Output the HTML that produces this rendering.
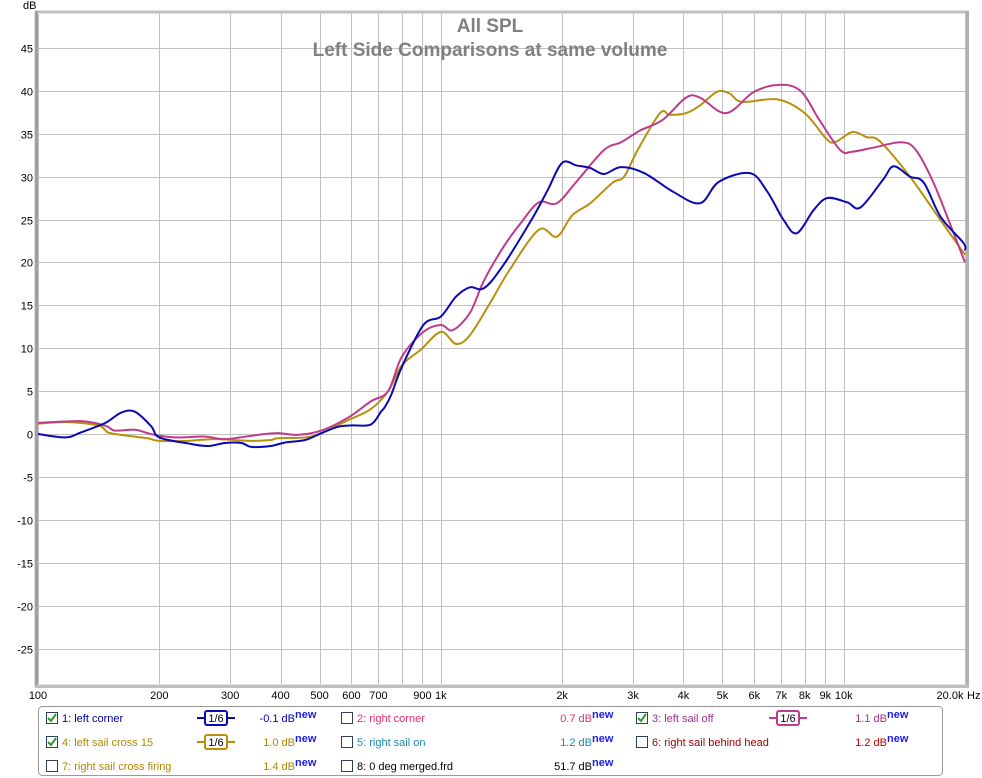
<!DOCTYPE html>
<html><head><meta charset="utf-8"><style>
body{margin:0;background:#fff;font-family:"Liberation Sans",sans-serif;}
svg{display:block}
</style></head><body>
<svg id="chart" width="982" height="778" xmlns="http://www.w3.org/2000/svg"></svg>
<script>
const yTicks=[45,40,35,30,25,20,15,10,5,0,-5,-10,-15,-20,-25];
const xGrid=[100,200,300,400,500,600,700,800,900,1000,2000,3000,4000,5000,6000,7000,8000,9000,10000,20000];
const xTickVals=[100,200,300,400,500,600,700,900,1000,2000,3000,4000,5000,6000,7000,8000,9000,10000];
const xTickLabels=["100","200","300","400","500","600","700","900","1k","2k","3k","4k","5k","6k","7k","8k","9k","10k"];
const blueF=[100,117,128,147,161,174,191,200,236,264,291,320,338,378,410,460,505,557,600,670,710,725,752,800,905,1000,1090,1180,1280,1430,1690,1840,2000,2170,2350,2540,2800,3200,3780,4400,4900,5850,6450,7100,7650,8420,9100,10200,11000,12500,13300,14600,15800,17400,19800,20000];
const blueDB=[0,-0.4,0.2,1.3,2.5,2.6,0.9,-0.4,-1.1,-1.4,-1.05,-1.05,-1.5,-1.4,-1,-0.7,0.1,0.85,1.0,1.1,2.6,3.1,4.5,7.8,12.7,13.7,16,17.1,17,19.7,25.2,28.4,31.6,31.3,31,30.3,31.1,30.4,28.2,26.9,29.4,30.4,28.3,24.9,23.4,26.1,27.5,27,26.4,29.6,31.2,30,29.3,25.3,22.3,21.4];
const pinkF=[100,128,147,155,174,187,200,222,260,291,351,394,441,505,588,670,740,800,905,1000,1070,1180,1280,1430,1580,1750,1940,2170,2540,2800,3130,3550,4060,4400,5110,6000,7000,7850,8700,9800,10500,11900,13900,15100,16700,18600,20000];
const pinkDB=[1.3,1.5,0.97,0.4,0.5,0.1,-0.2,-0.4,-0.3,-0.6,-0.1,0.1,-0.1,0.4,1.9,3.8,5,9,11.9,12.7,12.1,14.1,17.9,21.8,24.6,27,26.9,29.4,33.1,34,35.4,36.6,39.2,39.2,37.4,39.9,40.7,39.9,36.6,33.1,32.9,33.4,34,33.1,29.3,23.8,20];
const goldF=[100,117,141,149,161,187,200,236,275,338,378,394,460,505,588,670,740,800,890,1000,1090,1180,1330,1480,1750,1940,2120,2350,2670,2850,3080,3500,3700,4060,4400,4850,5200,5600,6850,8000,9100,9600,10500,11400,12300,14600,17400,20000];
const goldDB=[1.2,1.4,1,0.2,-0.1,-0.5,-0.8,-0.8,-0.6,-0.8,-0.7,-0.5,-0.4,0.1,1.6,2.9,5,8,9.8,11.9,10.5,11.5,15.4,19.1,23.8,23,25.5,26.9,29.3,30,33.1,37.4,37.2,37.4,38.3,39.9,39.7,38.7,39,37.4,34.3,34.1,35.2,34.6,34.1,30,24.9,20.9];

const L=38,R=965,T=14,B=684;
const xs=f=>L+(R-L)*Math.log10(f/100)/Math.log10(200);
const ys=d=>434-d*8.58;
const svg=document.getElementById('chart');
const NS="http://www.w3.org/2000/svg";
function mk(tag,attrs,parent){const e=document.createElementNS(NS,tag);for(const k in attrs)e.setAttribute(k,attrs[k]);(parent||svg).appendChild(e);return e;}

const frame=mk('rect',{x:L-2,y:T-2,width:R-L+4,height:B-T+4,fill:'none',stroke:'#c0c0c0','stroke-width':3});


const gridG=mk('g',{stroke:'#c0c0c0','stroke-width':1});


yTicks.forEach(v=>{const y=Math.round(ys(v))+0.5;mk('line',{x1:L,x2:R,y1:y,y2:y},gridG);
 const t=mk('text',{x:33,y:y+4,'text-anchor':'end','font-size':11,fill:'#000'});t.textContent=v;
 
 });
xGrid.forEach(f=>{const x=Math.round(xs(f))+0.5;mk('line',{x1:x,x2:x,y1:T,y2:B},gridG);});
xTickVals.forEach((f,i)=>{const t=mk('text',{x:xs(f),y:699,'text-anchor':'middle','font-size':11,fill:'#000'});t.textContent=xTickLabels[i];
 
 });
const last=mk('text',{x:950,y:699,'text-anchor':'middle','font-size':11});last.textContent='20.0k';


const hz=mk('text',{x:967,y:699,'font-size':11});hz.textContent='Hz';


const db=mk('text',{x:23,y:9,'font-size':11});db.textContent='dB';


mk('rect',{x:L-3,y:T-3,width:3,height:B-T+6,fill:'#a0a0a0'});
mk('rect',{x:R+1,y:T-3,width:3,height:B-T+6,fill:'#b0b0b0'});
mk('rect',{x:L-3,y:B+1,width:R-L+7,height:3,fill:'#c0c0c0'});
const t1=mk('text',{x:490,y:32,'text-anchor':'middle','font-size':19,'font-weight':'bold',fill:'#808080'});t1.textContent='All SPL';


const t2=mk('text',{x:490,y:56,'text-anchor':'middle','font-size':19,'font-weight':'bold',fill:'#808080'});t2.textContent='Left Side Comparisons at same volume';



function pathFor(F,D){const p=F.map((f,i)=>[xs(f),ys(D[i])]);let d='M'+p[0][0]+','+p[0][1];
 for(let i=0;i<p.length-1;i++){const p0=p[i-1]||p[i],p1=p[i],p2=p[i+1],p3=p[i+2]||p2;
 d+=' C'+(p1[0]+(p2[0]-p0[0])/6)+','+(p1[1]+(p2[1]-p0[1])/6)+' '+(p2[0]-(p3[0]-p1[0])/6)+','+(p2[1]-(p3[1]-p1[1])/6)+' '+p2[0]+','+p2[1];}
 return d;}
const gold=mk('path',{d:pathFor(goldF,goldDB),fill:'none',stroke:'#b8900c','stroke-width':2});


const pink=mk('path',{d:pathFor(pinkF,pinkDB),fill:'none',stroke:'#c03a8c','stroke-width':2});


const blue=mk('path',{d:pathFor(blueF,blueDB),fill:'none',stroke:'#0a0ab4','stroke-width':2});



const lg=mk('g',{});


mk('rect',{x:38.5,y:706.5,width:904,height:69,rx:4,fill:'#fff',stroke:'#999'},lg);
const entries=[
 [46,718,true,'1: left corner','#0000a0','#0a0ab4',200,320,'-0.1 dB','#0000c0'],
 [341,718,false,'2: right corner','#e0306a',null,0,617,'0.7 dB','#e0306a'],
 [636,718,true,'3: left sail off','#a0308a','#c03a8c',772,912,'1.1 dB','#b02a8a'],
 [46,742,true,'4: left sail cross 15','#b08800','#b8900c',200,320,'1.0 dB','#b08800'],
 [341,742,false,'5: right sail on','#1a8ab0',null,0,617,'1.2 dB','#1a8ab0'],
 [636,742,false,'6: right sail behind head','#a00000',null,0,912,'1.2 dB','#c00000'],
 [46,766,false,'7: right sail cross firing','#b08800',null,0,320,'1.4 dB','#b08800'],
 [341,766,false,'8: 0 deg merged.frd','#000',null,0,617,'51.7 dB','#000']];
entries.forEach(e=>{const [x,y,chk,label,lc,sc,bx,vx,val,vc]=e;
 const g=mk('g',{},lg);
 
 
 const cb=mk('rect',{x:x+0.5,y:y-5.5,width:11,height:11,fill:'#fff',stroke:'#304060'},g);
 
 
 if(chk)mk('path',{d:`M${x+2},${y} L${x+5},${y+3} L${x+10},${y-4}`,fill:'none',stroke:'#20a020','stroke-width':2},g);
 const t=mk('text',{x:x+16,y:y+4,'font-size':11,fill:lc},g);t.textContent=label;
 if(sc){mk('line',{x1:bx-3,x2:bx+35,y1:y,y2:y,stroke:sc,'stroke-width':2},g);
  mk('rect',{x:bx+5,y:y-7,width:22,height:14,rx:2,fill:'#fff',stroke:sc,'stroke-width':2},g);
  const s=mk('text',{x:bx+16,y:y+4,'text-anchor':'middle','font-size':11,fill:'#000'},g);s.textContent='1/6';
  
  }
 const v=mk('text',{x:vx-25,y:y+4,'text-anchor':'end','font-size':11,fill:vc},g);v.textContent=val;
 const n=mk('text',{x:vx-25,y:y,'font-size':11,'font-weight':'bold',fill:'#2020e0'},g);n.textContent='new';
 
 
});
</script>
</body></html>
